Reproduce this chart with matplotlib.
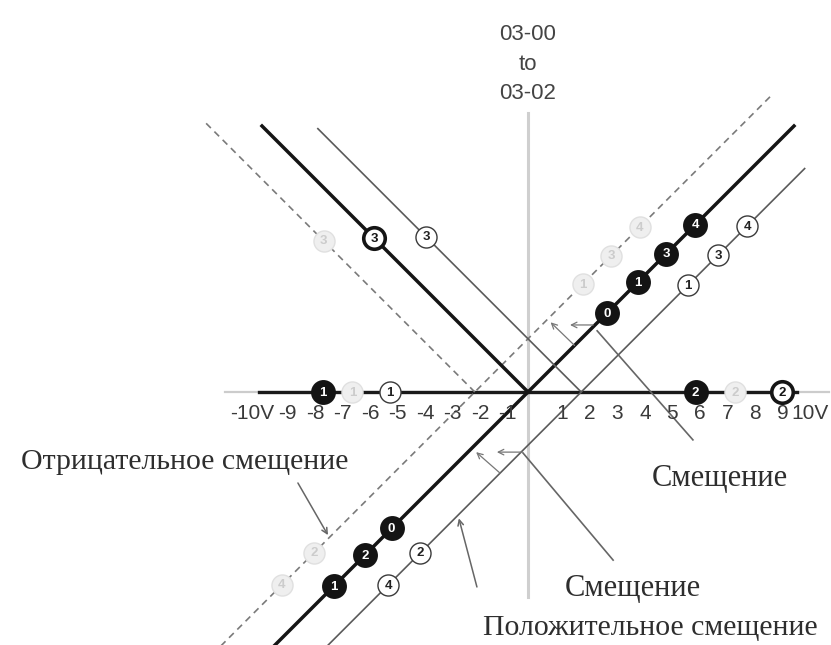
import matplotlib
matplotlib.use('Agg')
import matplotlib.pyplot as plt

# scale: pixels per volt in the 831x645 picture, origin of the V-diagram
U = 26.6
ORIGIN_PX = (528, 392)

# horizontal axis labels
tick_values = [-10, -9, -8, -7, -6, -5, -4, -3, -2, -1, 1, 2, 3, 4, 5, 6, 7, 8, 9, 10]
tick_labels = ['-10V', '-9', '-8', '-7', '-6', '-5', '-4', '-3', '-2', '-1',
               '1', '2', '3', '4', '5', '6', '7', '8', '9', '10V']

# bias of each curve (V): negative bias dashed, none thick, positive thin
bias_neg = -2
bias_zero = 0
bias_pos = 2

# rising branches y = x - bias, falling branches y = -(x - bias)
rise_span = {'neg': (-11.6, 9.1), 'zero': (-9.6, 10.0), 'pos': (-7.6, 10.4)}
fall_span = {'neg': (-12.1, -2.0), 'zero': (-10.0, 0.0), 'pos': (-7.9, 2.0)}

# numbered points along each branch (x in volts)
zero_rise_x = [2.97, 4.12, 5.2, 6.28, -5.13, -6.13, -7.3]
zero_rise_lbl = ['0', '1', '3', '4', '0', '2', '1']
pos_rise_x = [6.02, 7.15, 8.24, -4.05, -5.26]
pos_rise_lbl = ['1', '3', '4', '2', '4']
neg_rise_x = [2.05, 3.12, 4.2, -8.05, -9.25]
neg_rise_lbl = ['1', '3', '4', '2', '4']
zero_fall_x = [-5.79]
pos_fall_x = [-3.83]
neg_fall_x = [-7.68]
fall_lbl = ['3']
axis_x = [-7.7, -6.6, -5.2, 6.3, 7.78, 9.55]
axis_lbl = ['1', '1', '1', '2', '2', '2']
axis_style = ['black', 'gray', 'white', 'black', 'gray', 'ring']

fig = plt.figure(figsize=(8.31, 6.45), dpi=100)
ax = fig.add_axes([0, 0, 1, 1])
ax.set_xlim(-ORIGIN_PX[0] / U, (831 - ORIGIN_PX[0]) / U)
ax.set_ylim(-(645 - ORIGIN_PX[1]) / U, ORIGIN_PX[1] / U)
ax.axis('off')

# axes
ax.plot([-11.4, 11.3], [0, 0], color='#cccccc', lw=1.6, zorder=1)
ax.plot([0, 0], [-7.7, 10.5], color='#cfcfcf', lw=2.2, zorder=1)
ax.plot([-10.1, 10.1], [0, 0], color='#1a1a1a', lw=2.4, zorder=2)

styles = {
    'neg': dict(color='#7a7a7a', lw=1.2, ls=(0, (4, 3))),
    'zero': dict(color='#151515', lw=2.5, ls='-'),
    'pos': dict(color='#5a5a5a', lw=1.2, ls='-'),
}
biases = {'neg': bias_neg, 'zero': bias_zero, 'pos': bias_pos}
for key, b in biases.items():
    x0, x1 = rise_span[key]
    ax.plot([x0, x1], [x0 - b, x1 - b], zorder=2, **styles[key])
    x0, x1 = fall_span[key]
    ax.plot([x0, x1], [-(x0 - b), -(x1 - b)], zorder=2, **styles[key])

mk = {
    'black': dict(fc='#141414', ec='#141414', lw=1.5, tc='white', s=270),
    'white': dict(fc='white', ec='#3a3a3a', lw=1.0, tc='#222222', s=230),
    'gray': dict(fc='#efefef', ec='#e0e0e0', lw=1.0, tc='#cccccc', s=230),
    'ring': dict(fc='white', ec='#151515', lw=2.6, tc='#151515', s=240),
}


def mark(xs, ys, labels, style):
    if isinstance(style, str):
        style = [style] * len(xs)
    for x, y, t, st in zip(xs, ys, labels, style):
        m = mk[st]
        ax.scatter([x], [y], s=m['s'], facecolor=m['fc'], edgecolor=m['ec'],
                   linewidth=m['lw'], zorder=5)
        ax.text(x, y - 0.02, t, ha='center', va='center', fontsize=9.5,
                fontweight='bold', color=m['tc'], zorder=6, family='Liberation Sans')


mark(zero_rise_x, [x - bias_zero for x in zero_rise_x], zero_rise_lbl, 'black')
mark(pos_rise_x, [x - bias_pos for x in pos_rise_x], pos_rise_lbl, 'white')
mark(neg_rise_x, [x - bias_neg for x in neg_rise_x], neg_rise_lbl, 'gray')
mark(zero_fall_x, [-(x - bias_zero) for x in zero_fall_x], fall_lbl, 'ring')
mark(pos_fall_x, [-(x - bias_pos) for x in pos_fall_x], fall_lbl, 'white')
mark(neg_fall_x, [-(x - bias_neg) for x in neg_fall_x], fall_lbl, 'gray')
mark(axis_x, [0] * len(axis_x), axis_lbl, axis_style)

# tick labels (slightly stretched spacing as in the original)
sans = ['Liberation Sans Narrow', 'Liberation Sans', 'DejaVu Sans']
for v, t in zip(tick_values, tick_labels):
    pos = v * 1.034 + 0.26
    if t == '-10V':
        pos -= 0.3
    ax.text(pos, -0.8, t, ha='center', va='center', fontsize=15,
            color='#3a3a3a', family=sans, zorder=3)

ax.text(0, 12.33, '03-00\nto\n03-02', ha='center', va='center', fontsize=16,
        color='#444444', family=sans, linespacing=1.55)

# small shift arrows between branches
arr = dict(arrowstyle='->', color='#777777', lw=0.9, shrinkA=0, shrinkB=0)
ax.annotate('', xy=(1.58, 2.52), xytext=(2.45, 2.52), arrowprops=arr)
ax.annotate('', xy=(0.85, 2.62), xytext=(1.75, 1.75), arrowprops=arr)
ax.annotate('', xy=(-1.17, -2.26), xytext=(-0.23, -2.26), arrowprops=arr)
ax.annotate('', xy=(-1.95, -2.26), xytext=(-1.05, -3.05), arrowprops=arr)

# pointer lines and captions
serif = ['Liberation Serif', 'DejaVu Serif']
pcol = '#666666'
ax.plot([2.6, 6.2], [2.3, -1.8], color=pcol, lw=1.2, zorder=2)
ax.plot([-0.19, 3.2], [-2.29, -6.32], color=pcol, lw=1.2, zorder=2)
ax.annotate('', xy=(-2.6, -4.75), xytext=(-1.92, -7.33),
            arrowprops=dict(arrowstyle='->', color=pcol, lw=1.1, shrinkA=0, shrinkB=0))
ax.annotate('', xy=(-7.52, -5.38), xytext=(-8.65, -3.42),
            arrowprops=dict(arrowstyle='->', color=pcol, lw=1.1, shrinkA=0, shrinkB=0))

tcol = '#2e2e2e'
ax.text(7.22, -3.27, 'Смещение', ha='center', va='center', fontsize=22,
        color=tcol, family=serif)
ax.text(3.95, -7.37, 'Смещение', ha='center', va='center', fontsize=22,
        color=tcol, family=serif)
ax.text(4.6, -8.87, 'Положительное смещение', ha='center', va='center',
        fontsize=21.5, color=tcol, family=serif)
ax.text(-12.9, -2.63, 'Отрицательное смещение', ha='center', va='center',
        fontsize=21.5, color=tcol, family=serif)

fig.savefig('out.png', dpi=100)
plt.close(fig)
